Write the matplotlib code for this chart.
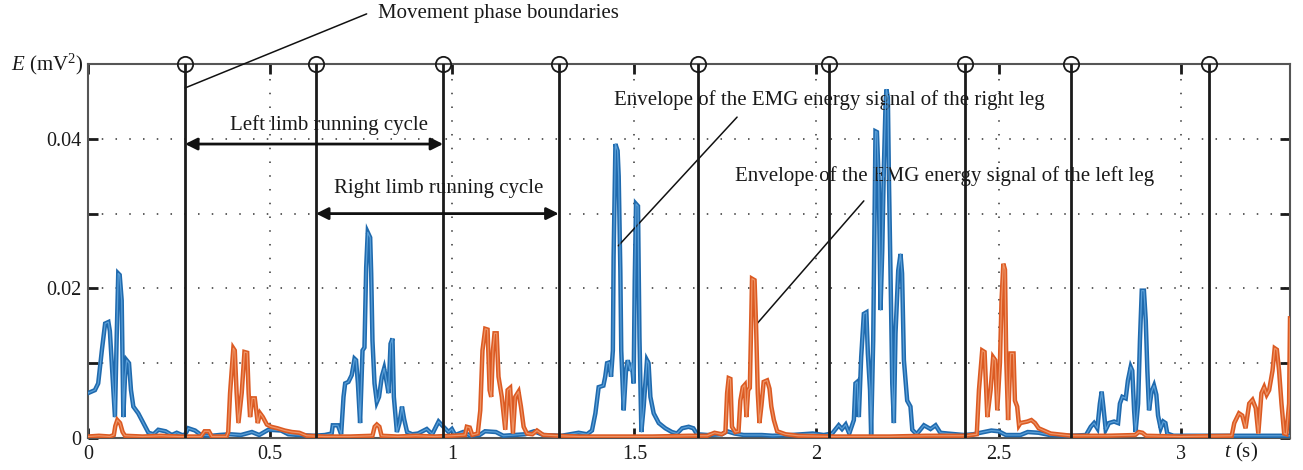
import matplotlib
matplotlib.use("Agg")
from matplotlib import pyplot as plt

# envelope of the EMG energy, right leg (blue)
t_right = [0.000, 0.019, 0.028, 0.038, 0.047, 0.056, 0.060, 0.070, 0.074, 0.079, 0.083, 0.087, 0.0925, 0.097, 0.1016, 0.106, 0.1126, 0.118, 0.1245, 0.138, 0.152, 0.166, 0.180, 0.193, 0.213, 0.230, 0.2436, 0.258, 0.266, 0.2756, 0.294, 0.310, 0.340, 0.360, 0.390, 0.420, 0.450, 0.470, 0.495, 0.530, 0.550, 0.580, 0.620, 0.650, 0.669, 0.672, 0.686, 0.695, 0.7015, 0.706, 0.715, 0.724, 0.7317, 0.736, 0.741, 0.747, 0.7537, 0.759, 0.7637, 0.768, 0.7747, 0.7775, 0.781, 0.7866, 0.793, 0.799, 0.8066, 0.813, 0.8206, 0.825, 0.8306, 0.836, 0.8397, 0.848, 0.855, 0.862, 0.868, 0.876, 0.890, 0.906, 0.930, 0.945, 0.9625, 0.972, 0.990, 0.999, 1.008, 1.030, 1.050, 1.075, 1.090, 1.120, 1.140, 1.200, 1.225, 1.250, 1.300, 1.347, 1.370, 1.3836, 1.393, 1.402, 1.415, 1.420, 1.425, 1.431, 1.436, 1.441, 1.443, 1.448, 1.454, 1.457, 1.4615, 1.464, 1.4707, 1.477, 1.482, 1.4885, 1.493, 1.498, 1.501, 1.5045, 1.510, 1.514, 1.5192, 1.5256, 1.5347, 1.539, 1.544, 1.553, 1.567, 1.585, 1.603, 1.617, 1.631, 1.649, 1.662, 1.672, 1.700, 1.740, 1.755, 1.775, 1.800, 1.850, 1.880, 1.930, 1.990, 2.020, 2.043, 2.061, 2.070, 2.080, 2.090, 2.1026, 2.107, 2.1117, 2.1163, 2.1227, 2.130, 2.137, 2.141, 2.147, 2.150, 2.1557, 2.159, 2.162, 2.166, 2.171, 2.1758, 2.1805, 2.185, 2.1896, 2.192, 2.196, 2.199, 2.203, 2.208, 2.2125, 2.217, 2.2244, 2.2307, 2.235, 2.240, 2.249, 2.258, 2.263, 2.275, 2.295, 2.313, 2.327, 2.340, 2.360, 2.405, 2.430, 2.480, 2.500, 2.520, 2.560, 2.580, 2.610, 2.640, 2.700, 2.740, 2.753, 2.762, 2.771, 2.778, 2.783, 2.788, 2.794, 2.803, 2.817, 2.828, 2.833, 2.8397, 2.849, 2.855, 2.8626, 2.867, 2.872, 2.876, 2.883, 2.888, 2.893, 2.899, 2.904, 2.9084, 2.913, 2.920, 2.9267, 2.933, 2.9377, 2.945, 2.952, 2.958, 2.963, 2.980, 3.100, 3.300]
e_right = [0.0060, 0.0064, 0.0073, 0.0117, 0.0153, 0.0155, 0.0143, 0.0060, 0.0028, 0.0140, 0.0220, 0.0218, 0.0184, 0.0028, 0.0082, 0.0104, 0.0100, 0.0064, 0.0042, 0.0033, 0.0020, 0.0007, 0.0005, 0.0011, 0.0009, 0.0004, 0.0007, 0.0004, 0.0004, 0.0013, 0.0010, 0.0004, 0.0003, 0.0004, 0.0005, 0.0004, 0.0008, 0.0004, 0.0011, 0.0010, 0.0005, 0.0004, 0.0003, 0.0004, 0.0006, 0.0017, 0.0017, 0.0005, 0.0055, 0.0073, 0.0075, 0.0084, 0.0106, 0.0104, 0.0073, 0.0020, 0.0117, 0.0121, 0.0228, 0.0275, 0.0268, 0.0220, 0.0130, 0.0073, 0.0048, 0.0055, 0.0082, 0.0093, 0.0073, 0.0060, 0.0126, 0.0133, 0.0055, 0.0008, 0.0020, 0.0042, 0.0025, 0.0008, 0.0005, 0.0006, 0.0012, 0.0005, 0.0022, 0.0017, 0.0008, 0.0012, 0.0004, 0.0008, 0.0003, 0.0004, 0.0009, 0.0008, 0.0003, 0.0005, 0.0009, 0.0004, 0.0003, 0.0007, 0.0005, 0.0010, 0.0033, 0.0068, 0.0070, 0.0082, 0.0100, 0.0101, 0.0082, 0.0117, 0.0242, 0.0393, 0.0384, 0.0350, 0.0224, 0.0117, 0.0037, 0.0090, 0.0104, 0.0090, 0.0100, 0.0073, 0.0210, 0.0313, 0.0310, 0.0135, 0.0008, 0.0042, 0.0104, 0.0100, 0.0055, 0.0033, 0.0020, 0.0013, 0.0008, 0.0006, 0.0013, 0.0015, 0.0013, 0.0005, 0.0004, 0.0005, 0.0009, 0.0006, 0.0004, 0.0004, 0.0003, 0.0004, 0.0006, 0.0004, 0.0006, 0.0017, 0.0012, 0.0018, 0.0006, 0.0024, 0.0073, 0.0075, 0.0028, 0.0108, 0.0166, 0.0168, 0.0113, 0.0064, 0.0004, 0.0130, 0.0273, 0.0410, 0.0409, 0.0340, 0.0171, 0.0250, 0.0362, 0.0446, 0.0466, 0.0455, 0.0344, 0.0228, 0.0073, 0.0020, 0.0140, 0.0224, 0.0246, 0.0220, 0.0104, 0.0050, 0.0042, 0.0011, 0.0005, 0.0017, 0.0012, 0.0017, 0.0007, 0.0006, 0.0004, 0.0005, 0.0010, 0.0009, 0.0004, 0.0004, 0.0008, 0.0007, 0.0004, 0.0003, 0.0004, 0.0015, 0.0020, 0.0013, 0.0046, 0.0062, 0.0040, 0.0011, 0.0020, 0.0022, 0.0020, 0.0046, 0.0055, 0.0053, 0.0077, 0.0095, 0.0090, 0.0037, 0.0008, 0.0046, 0.0130, 0.0197, 0.0197, 0.0157, 0.0090, 0.0037, 0.0062, 0.0070, 0.0058, 0.0030, 0.0013, 0.0022, 0.0020, 0.0006, 0.0003, 0.0003, 0.0003]

# envelope of the EMG energy, left leg (orange)
t_left = [0.000, 0.030, 0.060, 0.071, 0.075, 0.0805, 0.088, 0.095, 0.1016, 0.150, 0.200, 0.250, 0.310, 0.320, 0.332, 0.340, 0.380, 0.385, 0.390, 0.399, 0.403, 0.408, 0.413, 0.422, 0.4295, 0.437, 0.441, 0.445, 0.451, 0.458, 0.466, 0.4725, 0.480, 0.491, 0.503, 0.520, 0.540, 0.560, 0.580, 0.600, 0.650, 0.720, 0.781, 0.787, 0.793, 0.800, 0.806, 0.850, 0.900, 0.950, 1.000, 1.035, 1.040, 1.048, 1.055, 1.070, 1.077, 1.083, 1.0906, 1.097, 1.1026, 1.107, 1.1117, 1.116, 1.122, 1.127, 1.136, 1.1456, 1.152, 1.159, 1.1667, 1.173, 1.182, 1.1886, 1.196, 1.205, 1.220, 1.2326, 1.250, 1.290, 1.350, 1.450, 1.550, 1.650, 1.700, 1.720, 1.740, 1.750, 1.7546, 1.759, 1.7637, 1.768, 1.777, 1.786, 1.791, 1.7976, 1.803, 1.8077, 1.8123, 1.817, 1.8205, 1.823, 1.830, 1.834, 1.8388, 1.8434, 1.849, 1.855, 1.8645, 1.871, 1.876, 1.883, 1.892, 1.915, 1.950, 2.050, 2.200, 2.300, 2.410, 2.440, 2.446, 2.455, 2.4615, 2.469, 2.478, 2.485, 2.4908, 2.4963, 2.5037, 2.508, 2.513, 2.5175, 2.521, 2.526, 2.533, 2.541, 2.5448, 2.551, 2.556, 2.560, 2.579, 2.590, 2.600, 2.610, 2.643, 2.700, 2.800, 2.875, 2.885, 2.895, 2.905, 3.000, 3.140, 3.147, 3.160, 3.169, 3.178, 3.188, 3.197, 3.206, 3.213, 3.2216, 3.229, 3.236, 3.2427, 3.252, 3.258, 3.264, 3.270, 3.2766, 3.284, 3.290, 3.2975, 3.300]
e_left = [0.0002, 0.0003, 0.0002, 0.0004, 0.0016, 0.0024, 0.0020, 0.0008, 0.0003, 0.0002, 0.0003, 0.0002, 0.0002, 0.0009, 0.0009, 0.0002, 0.0002, 0.0008, 0.0060, 0.0120, 0.0117, 0.0060, 0.0020, 0.0060, 0.0115, 0.0114, 0.0060, 0.0028, 0.0053, 0.0053, 0.0020, 0.0033, 0.0028, 0.0018, 0.0015, 0.0013, 0.0010, 0.0008, 0.0007, 0.0003, 0.0002, 0.0002, 0.0003, 0.0015, 0.0018, 0.0015, 0.0003, 0.0002, 0.0003, 0.0002, 0.0003, 0.0004, 0.0015, 0.0014, 0.0004, 0.0006, 0.0037, 0.0117, 0.0146, 0.0145, 0.0064, 0.0055, 0.0117, 0.0140, 0.0140, 0.0082, 0.0055, 0.0011, 0.0064, 0.0067, 0.0006, 0.0055, 0.0062, 0.0042, 0.0015, 0.0006, 0.0005, 0.0010, 0.0004, 0.0003, 0.0002, 0.0002, 0.0002, 0.0003, 0.0003, 0.0007, 0.0005, 0.0008, 0.0060, 0.0080, 0.0079, 0.0015, 0.0008, 0.0009, 0.0050, 0.0068, 0.0071, 0.0028, 0.0064, 0.0067, 0.0148, 0.0213, 0.0211, 0.0153, 0.0060, 0.0020, 0.0044, 0.0075, 0.0077, 0.0066, 0.0042, 0.0024, 0.0009, 0.0005, 0.0003, 0.0002, 0.0002, 0.0003, 0.0003, 0.0005, 0.0064, 0.0117, 0.0115, 0.0028, 0.0064, 0.0108, 0.0104, 0.0037, 0.0101, 0.0184, 0.0233, 0.0225, 0.0104, 0.0024, 0.0113, 0.0113, 0.0050, 0.0042, 0.0017, 0.0020, 0.0022, 0.0024, 0.0020, 0.0013, 0.0006, 0.0003, 0.0003, 0.0004, 0.0008, 0.0007, 0.0003, 0.0002, 0.0003, 0.0020, 0.0033, 0.0030, 0.0013, 0.0046, 0.0051, 0.0040, 0.0006, 0.0060, 0.0068, 0.0058, 0.0064, 0.0090, 0.0120, 0.0118, 0.0090, 0.0046, 0.0006, 0.0005, 0.0046, 0.0160]

# movement phase boundaries (s)
boundaries = [0.2665, 0.626, 0.975, 1.292, 1.675, 2.033, 2.408, 2.698, 3.077]

x_ticks = [0, 0.5, 1, 1.5, 2, 2.5, 3]
x_tick_labels = ["0", "0.5", "1", "1.5", "2", "2.5", "3"]
y_ticks = [0, 0.01, 0.02, 0.03, 0.04]
y_tick_labels = ["0", "", "0.02", "", "0.04"]

plt.rcParams["font.family"] = "Liberation Serif"
plt.rcParams["mathtext.fontset"] = "custom"
plt.rcParams["mathtext.rm"] = "Liberation Serif"
plt.rcParams["mathtext.it"] = "Liberation Serif:italic"

fig = plt.figure(figsize=(13.03, 4.70), dpi=100)
ax = fig.add_axes([88 / 1303, 32 / 470, 1202 / 1303, 374 / 470])

# double stroke gives the dark rim / light core look of the original traces
ax.plot(t_right, e_right, color="#1f6aae", lw=3.2, solid_joinstyle="miter", zorder=3)
ax.plot(t_right, e_right, color="#5a9fd8", lw=0.9, zorder=3.1)
ax.plot(t_left, e_left, color="#dc5a22", lw=3.2, solid_joinstyle="miter", zorder=3.2)
ax.plot(t_left, e_left, color="#ee9466", lw=0.9, zorder=3.3)

for b in boundaries:
    ax.plot([b, b], [0, 0.05], color="#1a1a1a", lw=2, zorder=4)
    ax.plot(b, 0.05, marker="o", ms=11, mfc="none", mec="#1a1a1a", mew=1.3,
            clip_on=False, zorder=5)

ax.set_xlim(0, 3.3)
ax.set_ylim(0, 0.05)
ax.set_xticks(x_ticks)
ax.set_xticklabels(x_tick_labels)
ax.set_yticks(y_ticks)
ax.set_yticklabels(y_tick_labels)
ax.tick_params(direction="in", length=7, width=2, top=True, right=True,
               labelsize=14.5, colors="#1a1a1a", pad=5)
ax.grid(True, color="#333333", linestyle=(0, (1, 8)), lw=1.1)
for s in ax.spines.values():
    s.set_color("#555555")
    s.set_linewidth(1.5)

ax.text(-0.004, 1.0, r"$E$ (mV$^2$)", transform=ax.transAxes, ha="right",
        va="center", fontsize=15, color="#1a1a1a")
ax.text(3.165, -0.0019, r"$t$ (s)", ha="center", va="center", fontsize=15,
        color="#1a1a1a", clip_on=False)

# cycle arrows
arrow = dict(arrowstyle="<|-|>", color="#111111", lw=2, mutation_scale=18,
             shrinkA=0, shrinkB=0)
ax.annotate("", xy=(boundaries[0], 0.0393), xytext=(boundaries[2], 0.0393),
            arrowprops=arrow, zorder=6)
ax.text(0.662, 0.0419, "Left limb running cycle", ha="center", va="center",
        fontsize=15, color="#1a1a1a")
ax.annotate("", xy=(boundaries[1], 0.030), xytext=(boundaries[3], 0.030),
            arrowprops=arrow, zorder=6)
ax.text(0.9615, 0.0334, "Right limb running cycle", ha="center", va="center",
        fontsize=15, color="#1a1a1a")

line = dict(arrowstyle="-", color="#111111", lw=1.1, shrinkA=0, shrinkB=0)
ax.annotate("", xy=(boundaries[0], 0.0468), xytext=(0.765, 0.0567),
            arrowprops=line, annotation_clip=False)
ax.text(0.797, 0.0567, "Movement phase boundaries", ha="left", va="center",
        fontsize=15, color="#1a1a1a", clip_on=False)

ax.annotate("", xy=(1.456, 0.0257), xytext=(1.782, 0.0429), arrowprops=line)
ax.text(1.445, 0.0452, "Envelope of the EMG energy signal of the right leg",
        ha="left", va="center", fontsize=15, color="#1a1a1a")
ax.annotate("", xy=(1.837, 0.0153), xytext=(2.13, 0.0317), arrowprops=line)
ax.text(1.777, 0.0350, "Envelope of the EMG energy signal of the left leg",
        ha="left", va="center", fontsize=15, color="#1a1a1a")

fig.savefig("out.png", dpi=100)
